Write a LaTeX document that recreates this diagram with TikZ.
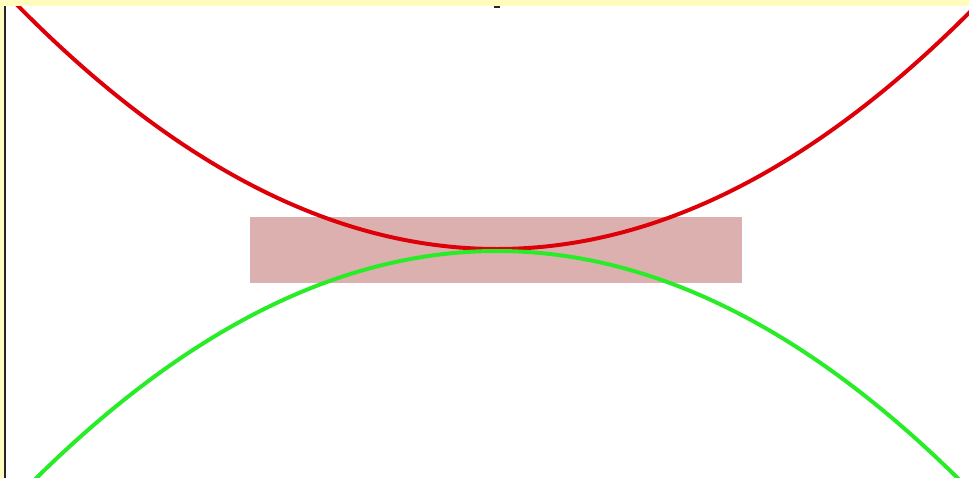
\documentclass[tikz,border=0pt]{standalone}
\usetikzlibrary{positioning}
\definecolor{curvered}{RGB}{222,0,8}
\definecolor{curvegreen}{RGB}{40,236,40}
\definecolor{bandpink}{RGB}{221,176,176}
\definecolor{edgeyellow}{RGB}{255,252,190}
\tikzset{
  redcurve/.style   = {draw=curvered, line width=3.4pt},
  greencurve/.style = {draw=curvegreen, line width=3.4pt},
  band/.style       = {fill=bandpink, draw=none},
  edgestrip/.style  = {fill=edgeyellow, draw=none}
}
\begin{document}
\begin{tikzpicture}[x=0.03cm, y=-0.03cm]
  \useasboundingbox (0,0) rectangle (969,478);
  \fill[white] (0,0) rectangle (969,478);

  % band across the middle
  \fill[band] (250,217) rectangle (742,283);

  % the two arcs touching at the middle
  \begin{scope}
    \clip (0,0) rectangle (969,478);
    \draw[redcurve] plot[domain=8:986, samples=120, smooth] (\x, {249 - 10.6*((\x-497)/100)^2});
    \draw[greencurve] plot[domain=30:964, samples=120, smooth] (\x, {251 + 10.7*((\x-497)/100)^2});
  \end{scope}

  % frame strips
  \fill[edgestrip] (0,0) rectangle (969,6);
  \fill[edgestrip] (0,6) rectangle (4,478);
  \fill[black!85] (4,6) rectangle (6,478);
  \fill[black!85] (494,6) rectangle (500,8);
\end{tikzpicture}
\end{document}
